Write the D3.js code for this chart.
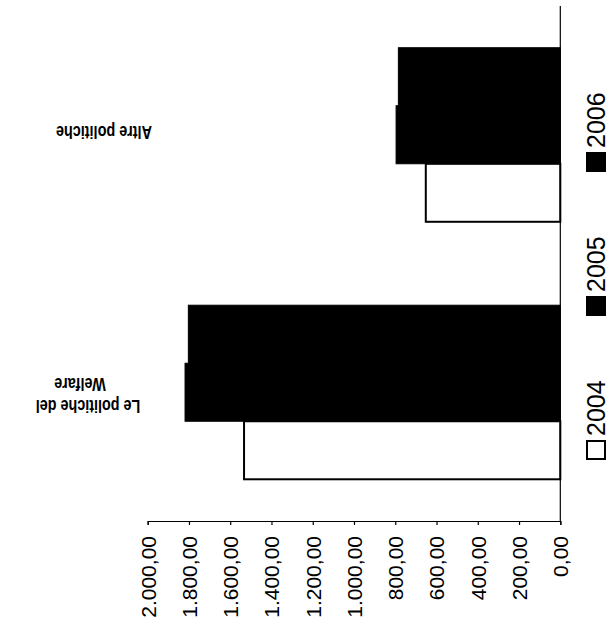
<!DOCTYPE html>
<html>
<head>
<meta charset="utf-8">
<script src="https://cdn.jsdelivr.net/npm/d3@7"></script>
<style>
  html, body { margin: 0; padding: 0; background: #fff; }
  svg { display: block; }
  text { font-family: "Liberation Sans", Arial, sans-serif; fill: #000; }
</style>
</head>
<body>
<script>
const categories = ["Altre politiche", "Le politiche del Welfare"];
const categoryLines = [["Altre politiche"], ["Le politiche del", "Welfare"]];
const years = ["2004", "2005", "2006"];
const values2004 = [652, 1533];
const values2005 = [796, 1819];
const values2006 = [785, 1803];
const tickValues = [0, 200, 400, 600, 800, 1000, 1200, 1400, 1600, 1800, 2000];
const tickLabels = ["0,00", "200,00", "400,00", "600,00", "800,00", "1.000,00", "1.200,00", "1.400,00", "1.600,00", "1.800,00", "2.000,00"];
const fills = { "2004": "#ffffff", "2005": "#000000", "2006": "#000000" };

const series = { "2004": values2004, "2005": values2005, "2006": values2006 };

const W = 610, H = 625;
const svg = d3.select("body").append("svg").attr("width", W).attr("height", H);

const x = d3.scaleLinear().domain([0, 2000]).range([560.3, 147.7]);
const y = d3.scaleBand().domain(categories).range([6, 521]).paddingInner(0.324).paddingOuter(0.162);
const yInner = d3.scaleBand().domain(["2006", "2005", "2004"]).range([0, y.bandwidth()]);

// bars
const g = svg.append("g");
categories.forEach((c, ci) => {
  years.forEach(yr => {
    const v = series[yr][ci];
    const yy = y(c) + yInner(yr);
    g.append("rect")
      .attr("x", x(v))
      .attr("y", yy)
      .attr("width", x(0) - x(v))
      .attr("height", yInner.bandwidth())
      .attr("fill", fills[yr])
      .attr("stroke", "#000")
      .attr("stroke-width", yr === "2004" ? 2 : 1);
  });
});

// value axis (bottom)
const axis = d3.axisBottom(x).tickValues(tickValues).tickSize(4).tickFormat((d, i) => tickLabels[i]);
const ax = svg.append("g").attr("transform", "translate(0,521)").call(axis);
ax.select(".domain").attr("stroke", "#000").attr("stroke-width", 1.2);
ax.selectAll(".tick line").attr("stroke", "#000").attr("stroke-width", 1.2);
ax.selectAll(".tick text")
  .attr("font-size", 21)
  .attr("font-family", "Liberation Sans, Arial, sans-serif")
  .attr("text-anchor", "end")
  .attr("dy", "0.35em")
  .attr("x", 0)
  .attr("y", 0)
  .attr("transform", "translate(0,15) rotate(-90)");

// category axis line
svg.append("line")
  .attr("x1", x(0)).attr("x2", x(0))
  .attr("y1", 6).attr("y2", 521)
  .attr("stroke", "#000").attr("stroke-width", 1.2);

// category labels (upside down)
const labelCenters = [[104], [88, 80]];
categoryLines.forEach((lines, ci) => {
  const yc = y(categories[ci]) + y.bandwidth() / 2 + (lines.length > 1 ? 3 : -2);
  const lh = 22;
  lines.forEach((ln, li) => {
    const ly = yc - (li - (lines.length - 1) / 2) * lh;
    svg.append("text")
      .attr("transform", `translate(${labelCenters[ci][li]},${ly}) rotate(180) scale(0.8,1)`)
      .attr("dy", "0.35em")
      .attr("text-anchor", "middle")
      .attr("font-size", 18)
      .attr("font-weight", "bold")
      .text(ln);
  });
});

// legend (rotated -90)
const legendBottoms = { "2004": 460, "2005": 316, "2006": 172 };
years.forEach(yr => {
  const lg = svg.append("g").attr("transform", `translate(596,${legendBottoms[yr]}) rotate(-90)`);
  lg.append("rect")
    .attr("x", 1).attr("y", -9)
    .attr("width", 18).attr("height", 18)
    .attr("fill", fills[yr])
    .attr("stroke", "#000").attr("stroke-width", 2);
  lg.append("text")
    .attr("x", 24).attr("y", 0)
    .attr("dy", "0.36em")
    .attr("font-size", 25)
    .text(yr);
});
</script>
</body>
</html>
